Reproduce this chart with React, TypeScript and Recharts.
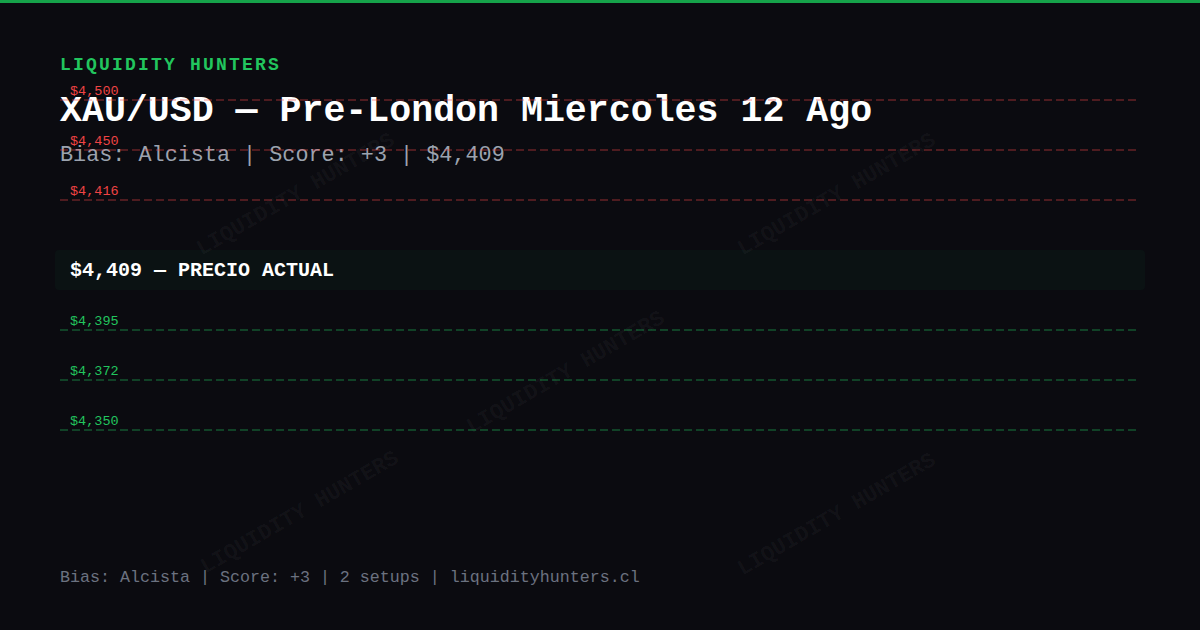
import React from 'react';
import { ComposedChart, XAxis, YAxis, ReferenceLine, ReferenceArea, Line } from 'recharts';

// ---- data ----
const RESISTANCES = [4500, 4450, 4416];
const CURRENT_PRICE = 4409;
const SUPPORTS = [4395, 4372, 4350];
const BRAND = 'LIQUIDITY HUNTERS';
const TITLE = 'XAU/USD — Pre-London Miercoles 12 Ago';
const BIAS = 'Alcista';
const SCORE = '+3';
const SETUPS = 2;
const SITE = 'liquidityhunters.cl';
const CURRENT_LABEL = 'PRECIO ACTUAL';

// ---- styling ----
const W = 1200;
const H = 630;
const BG = '#0b0b10';
const FONT = '"Liberation Mono", "DejaVu Sans Mono", monospace';
const RED = '#ef4444';
const RED_LINE = 'rgba(239,68,68,0.3)';
const GREEN = '#22c55e';
const GREEN_LINE = 'rgba(34,197,94,0.3)';
const WATERMARKS: [number, number][] = [
  [296, 195],
  [837, 195],
  [566, 373],
  [300, 513],
  [837, 515],
];

const fmt = (v: number) => '$' + v.toLocaleString('en-US');

export default function App() {
  const levels = [
    ...RESISTANCES.map((p, i) => ({ price: p, slot: i, color: RED, line: RED_LINE })),
    ...SUPPORTS.map((p, i) => ({
      price: p,
      slot: RESISTANCES.length + 1.6 + i,
      color: GREEN,
      line: GREEN_LINE,
    })),
  ];
  const bandSlot = RESISTANCES.length + 0.4;
  const data = levels.map((l) => ({ x: 0.5, slot: l.slot }));

  return (
    <div
      style={{
        position: 'absolute',
        left: 0,
        top: 0,
        width: W,
        height: H,
        background: BG,
        overflow: 'hidden',
        fontFamily: FONT,
      }}
    >
      <svg width={W} height={H} style={{ position: 'absolute', left: 0, top: 0 }}>
        <rect x={0} y={0} width={W} height={3} fill="#16a34a" />
        {WATERMARKS.map(([cx, cy], i) => (
          <text
            key={i}
            x={cx}
            y={cy}
            textAnchor="middle"
            dominantBaseline="central"
            transform={`rotate(-30 ${cx} ${cy})`}
            fontFamily={FONT}
            fontWeight={700}
            fontSize={22}
            fill="rgba(255,255,255,0.045)"
          >
            {BRAND}
          </text>
        ))}
        <text x={60} y={70} fontFamily={FONT} fontWeight={700} fontSize={18} letterSpacing={2.2} fill={GREEN}>
          {BRAND}
        </text>
        <text x={60} y={121} fontFamily={FONT} fontWeight={700} fontSize={36.6} fill="#ffffff">
          {TITLE}
        </text>
        <text x={60} y={161} fontFamily={FONT} fontSize={21.8} fill="#9ca3af">
          {`Bias: ${BIAS} | Score: ${SCORE} | ${fmt(CURRENT_PRICE)}`}
        </text>
        <text x={60} y={582} fontFamily={FONT} fontSize={16.67} fill="#6b7280">
          {`Bias: ${BIAS} | Score: ${SCORE} | ${SETUPS} setups | ${SITE}`}
        </text>
      </svg>
      <div style={{ position: 'absolute', left: 0, top: 0 }}>
        <ComposedChart width={W} height={H} data={data} margin={{ top: 0, right: 64, bottom: 0, left: 60 }}>
          <XAxis type="number" dataKey="x" domain={[0, 1]} hide />
          <YAxis type="number" domain={[-2, 10.6]} reversed hide />
          <ReferenceArea
            y1={bandSlot - 0.4}
            y2={bandSlot + 0.4}
            x1={0}
            x2={1}
            ifOverflow="visible"
            shape={(p: any) => (
              <g>
                <rect
                  x={p.x - 5}
                  y={p.y}
                  width={p.width + 14}
                  height={p.height}
                  rx={4}
                  ry={4}
                  fill="rgba(34,197,94,0.045)"
                />
                <text
                  x={p.x + 10}
                  y={p.y + p.height / 2 + 6}
                  fontFamily={FONT}
                  fontWeight={700}
                  fontSize={20}
                  fill="#ffffff"
                >
                  {`${fmt(CURRENT_PRICE)} — ${CURRENT_LABEL}`}
                </text>
              </g>
            )}
          />
          {levels.map((l, i) => (
            <ReferenceLine
              key={i}
              y={l.slot}
              stroke={l.line}
              strokeWidth={2}
              strokeDasharray="8 4"
              ifOverflow="visible"
              label={(props: any) => {
                const vb = props.viewBox || {};
                return (
                  <text x={vb.x + 10} y={vb.y - 5} fontFamily={FONT} fontSize={13.5} fill={l.color}>
                    {fmt(l.price)}
                  </text>
                );
              }}
            />
          ))}
          <Line dataKey="slot" stroke="none" dot={false} isAnimationActive={false} />
        </ComposedChart>
      </div>
    </div>
  );
}
